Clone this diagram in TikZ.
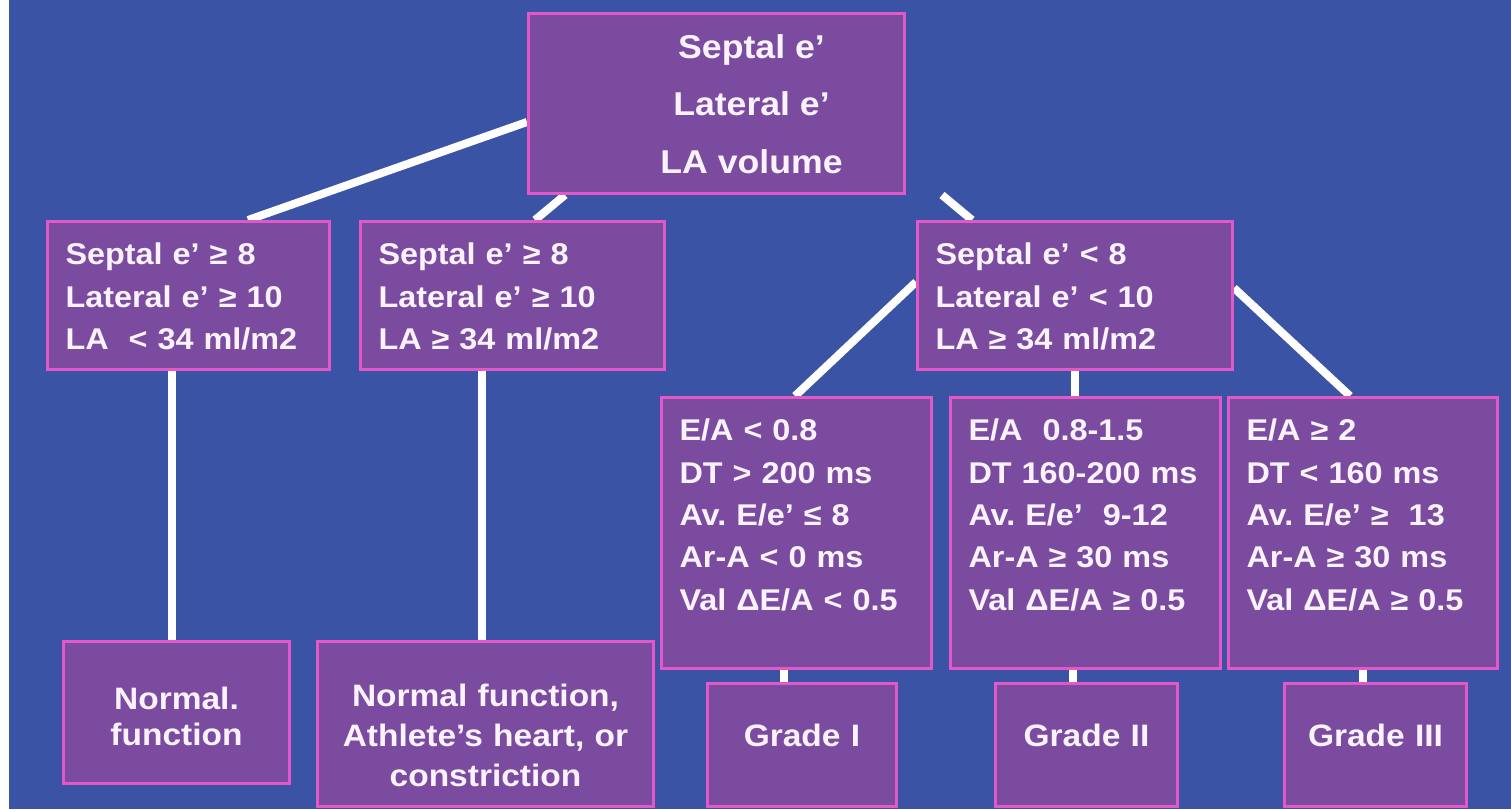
\documentclass[tikz,border=0pt]{standalone}
\usepackage{fontspec}
\setmainfont[FakeStretch=1.08]{Liberation Sans}
\usetikzlibrary{calc,backgrounds}
\definecolor{bg}{RGB}{58,83,164}
\definecolor{boxfill}{RGB}{123,75,160}
\definecolor{boxedge}{RGB}{226,88,200}
\definecolor{txt}{RGB}{250,242,252}
\frenchspacing
\begin{document}
\begin{tikzpicture}[x=1pt,y=-1pt,
  box/.style={draw=boxedge, line width=3pt, fill=boxfill, text=txt, inner sep=0pt, anchor=north west},
  lbox/.style={box, align=left, font=\bfseries\fontsize{30}{42.3}\selectfont,
     text height=43.3pt, text depth=227.7pt},
  mbox/.style={box, align=left, font=\bfseries\fontsize{30}{42.5}\selectfont,
     text height=43pt, text depth=105pt},
  cbox/.style={box, align=center, font=\bfseries\fontsize{31}{40}\selectfont},
  link/.style={draw=white, line width=8pt}]
\useasboundingbox (0,0) rectangle (1511,809);

% top
\node[box, font=\bfseries\fontsize{33}{57.5}\selectfont,
  text height=44.7pt, text depth=135.3pt] (top) at (527,12)
  {\hspace*{70pt}\parbox[t]{306pt}{\centering Septal e’\\Lateral e’\\LA volume}};

% second row
\node[mbox, minimum width=282pt, text width=246pt] (b1) at (46,220)
  {Septal e’ ≥ 8\\Lateral e’ ≥ 10\\LA~~< 34 ml/m2};
\node[mbox, minimum width=304pt, text width=268pt] (b2) at (359,220)
  {Septal e’ ≥ 8\\Lateral e’ ≥ 10\\LA ≥ 34 ml/m2};
\node[mbox, minimum width=315pt, text width=279pt] (b3) at (916,220)
  {Septal e’ < 8\\Lateral e’ < 10\\LA ≥ 34 ml/m2};

% criteria boxes
\node[lbox, minimum width=270pt, text width=234pt] (g1) at (660,396)
  {E/A < 0.8\\DT > 200 ms\\Av. E/e’ ≤ 8\\Ar-A < 0 ms\\Val ΔE/A < 0.5};
\node[lbox, minimum width=270pt, text width=234pt] (g2) at (949,396)
  {E/A~~0.8-1.5\\DT 160-200 ms\\Av. E/e’~~9-12\\Ar-A ≥ 30 ms\\Val ΔE/A ≥ 0.5};
\node[lbox, minimum width=269pt, text width=233pt] (g3) at (1227,396)
  {E/A ≥ 2\\DT < 160 ms\\Av. E/e’ ≥~~13\\Ar-A ≥ 30 ms\\Val ΔE/A ≥ 0.5};

% outcome boxes
\node[cbox, font=\bfseries\fontsize{31}{36}\selectfont, text width=226pt,
  text height=68pt, text depth=74pt] (n1) at (62,640) {Normal.\\function};
\node[cbox, text width=336pt, text height=65pt, text depth=100pt] (n2) at (316,640)
  {Normal function,\\Athlete’s heart, or\\constriction};
\node[cbox, text width=189pt, text height=63pt, text depth=60pt] (gr1) at (706,682) {Grade I};
\node[cbox, text width=182pt, text height=63pt, text depth=60pt] (gr2) at (994,682) {Grade II};
\node[cbox, text width=182pt, text height=63pt, text depth=60pt] (gr3) at (1283,682) {Grade III};

\coordinate (n1t) at ($(n1.north west)+(110,0)$);
\coordinate (n2t) at ($(n2.north west)+(166,0)$);
\coordinate (gr1t) at ($(gr1.north west)+(78,0)$);
\coordinate (gr2t) at ($(gr2.north west)+(79,0)$);
\coordinate (gr3t) at ($(gr3.north west)+(80,0)$);

\begin{scope}[on background layer]
  \fill[white] (0,0) rectangle (1511,809);
  \fill[bg] (9,0) rectangle (1511,809);
  \draw[link] ($(top.north west)+(0,110)$) -- ($(b1.north west)+(202,0)$);
  \draw[link] ($(top.south west)+(38,0)$) -- ($(b2.north west)+(176,0)$);
  \draw[link] ($(top.south west)+(415,0)$) -- ($(b3.north west)+(56,0)$);
  \draw[link] ($(b3.north west)+(0,62)$) -- ($(g1.north west)+(135,0)$);
  \draw[link] (b3.south) -- (b3.south |- g2.north);
  \draw[link] ($(b3.north east)+(0,68)$) -- ($(g3.north west)+(123,0)$);
  \draw[link] (n1t |- b1.south) -- (n1t);
  \draw[link] (n2t |- b2.south) -- (n2t);
  \draw[link] (gr1t |- g1.south) -- (gr1t);
  \draw[link] (gr2t |- g2.south) -- (gr2t);
  \draw[link] (gr3t |- g3.south) -- (gr3t);
\end{scope}
\end{tikzpicture}
\end{document}
